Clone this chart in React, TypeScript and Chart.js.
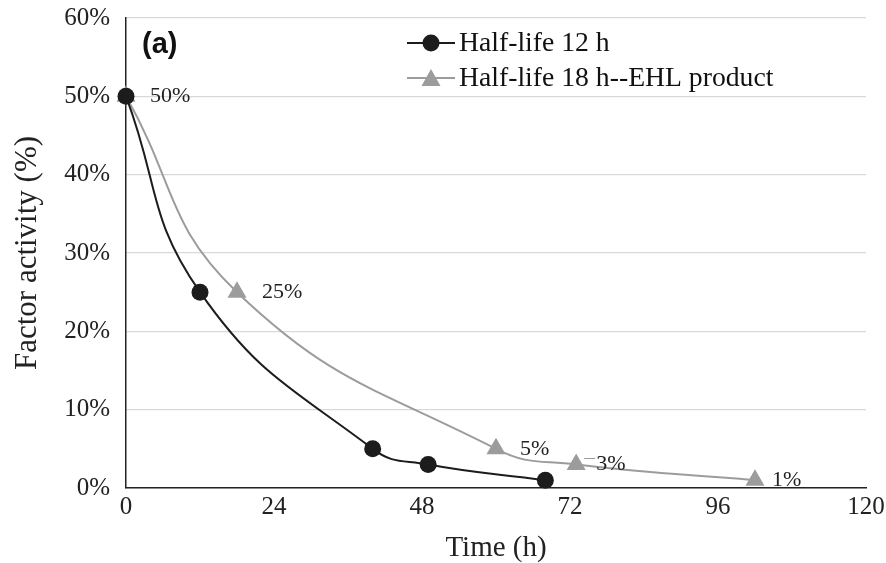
import React, { useEffect, useRef } from "react";
import { Chart, registerables } from "chart.js";

Chart.register(...registerables);

const xTicks = [0, 24, 48, 72, 96, 120];
const hours12 = [0, 12, 40, 49, 68];
const activity12 = [50, 25, 5, 3, 1];
const hours18 = [0, 18, 60, 73, 102];
const activity18 = [50, 25, 5, 3, 1];
const labels18 = ["50%", "25%", "5%", "3%", "1%"];
const seriesNames = ["Half-life 12 h", "Half-life 18 h--EHL product"];
const panelLabel = "(a)";
const xTitle = "Time (h)";
const yTitle = "Factor activity (%)";

const BLACK = "#1c1c1c";
const GRAY = "#9c9c9c";
const SERIF = "'Liberation Serif', 'Times New Roman', serif";
const LABEL_DX = [24, 25, 24, 20, 17];

const overlayPlugin = {
  id: "overlay",
  afterDatasetsDraw(chart: any) {
    const ctx = chart.ctx;
    const area = chart.chartArea;
    ctx.save();
    const meta = chart.getDatasetMeta(1);
    ctx.font = `22px ${SERIF}`;
    ctx.fillStyle = "#222";
    ctx.textAlign = "left";
    ctx.textBaseline = "middle";
    meta.data.forEach((pt: any, i: number) => {
      const lx = pt.x + LABEL_DX[i];
      const ly = pt.y;
      if (i === 3) {
        ctx.strokeStyle = GRAY;
        ctx.lineWidth = 1;
        ctx.beginPath();
        ctx.moveTo(pt.x + 8, ly - 6);
        ctx.lineTo(lx - 1, ly - 6);
        ctx.stroke();
      }
      ctx.fillText(labels18[i], lx, ly);
    });
    ctx.font = `bold 29px 'Liberation Sans', Arial, sans-serif`;
    ctx.fillStyle = "#111";
    ctx.fillText(panelLabel, area.left + 16, area.top + 27);
    const lx0 = 407;
    const rows = [43, 78];
    rows.forEach((ry, i) => {
      const color = i === 0 ? BLACK : GRAY;
      ctx.strokeStyle = color;
      ctx.lineWidth = 2;
      ctx.beginPath();
      ctx.moveTo(lx0, ry);
      ctx.lineTo(lx0 + 48, ry);
      ctx.stroke();
      ctx.fillStyle = color;
      ctx.beginPath();
      if (i === 0) {
        ctx.arc(lx0 + 24, ry, 8.5, 0, Math.PI * 2);
      } else {
        ctx.moveTo(lx0 + 24, ry - 9);
        ctx.lineTo(lx0 + 33.5, ry + 8);
        ctx.lineTo(lx0 + 14.5, ry + 8);
        ctx.closePath();
      }
      ctx.fill();
      ctx.fillStyle = "#111";
      ctx.font = `27.7px ${SERIF}`;
      ctx.fillText(seriesNames[i], lx0 + 52, ry + 1);
    });
    ctx.restore();
  },
};

export default function App() {
  const ref = useRef<HTMLCanvasElement | null>(null);
  useEffect(() => {
    if (!ref.current) return;
    const chart = new Chart(ref.current, {
      type: "line",
      data: {
        datasets: [
          {
            label: seriesNames[0],
            data: hours12.map((x, i) => ({ x, y: activity12[i] })),
            borderColor: BLACK,
            backgroundColor: BLACK,
            borderWidth: 2,
            pointStyle: "circle",
            pointRadius: 8.5,
            pointBorderWidth: 0,
            tension: 0.45,
            clip: false,
          },
          {
            label: seriesNames[1],
            data: hours18.map((x, i) => ({ x, y: activity18[i] })),
            borderColor: GRAY,
            backgroundColor: GRAY,
            borderWidth: 2,
            pointStyle: "triangle",
            pointRadius: 11,
            pointBorderWidth: 0,
            tension: 0.45,
            clip: false,
          },
        ],
      },
      options: {
        responsive: false,
        animation: false,
        layout: { autoPadding: false, padding: { top: 18, right: 20, left: 0, bottom: 0 } },
        plugins: { legend: { display: false }, tooltip: { enabled: false } },
        scales: {
          x: {
            type: "linear",
            min: 0,
            max: 120,
            afterBuildTicks: (s: any) => {
              s.ticks = xTicks.map((v) => ({ value: v }));
            },
            afterFit: (s: any) => {
              s.height = 75;
              s.paddingLeft = 0;
              s.paddingRight = 0;
              s.paddingTop = 0;
              s.paddingBottom = 0;
            },
            grid: { display: false, drawTicks: false },
            border: { display: true, color: "#222", width: 1.5 },
            ticks: { padding: 4, color: "#222", font: { family: SERIF, size: 25 } },
            title: {
              display: true,
              text: xTitle,
              color: "#222",
              font: { family: SERIF, size: 29, lineHeight: 1 },
              padding: { top: 0, bottom: 0 },
            },
          },
          y: {
            type: "linear",
            min: 0,
            max: 60,
            afterFit: (s: any) => {
              s.width = 126;
              s.paddingLeft = 0;
              s.paddingRight = 0;
              s.paddingTop = 0;
              s.paddingBottom = 0;
            },
            grid: { color: "#d9d9d9", lineWidth: 1.2, drawTicks: false },
            border: { display: true, color: "#222", width: 1.5 },
            ticks: {
              stepSize: 10,
              padding: 16,
              color: "#222",
              font: { family: SERIF, size: 25 },
              callback: (v: any) => `${v}%`,
            },
            title: {
              display: true,
              text: yTitle,
              color: "#222",
              font: { family: SERIF, size: 31, lineHeight: 1 },
              padding: { top: 12, bottom: 0 },
            },
          },
        },
      },
      plugins: [overlayPlugin],
    });
    return () => chart.destroy();
  }, []);
  return (
    <div style={{ position: "absolute", left: 0, top: 0, width: 886, height: 563, background: "#fff" }}>
      <canvas ref={ref} width={886} height={563} style={{ width: 886, height: 563 }} />
    </div>
  );
}
